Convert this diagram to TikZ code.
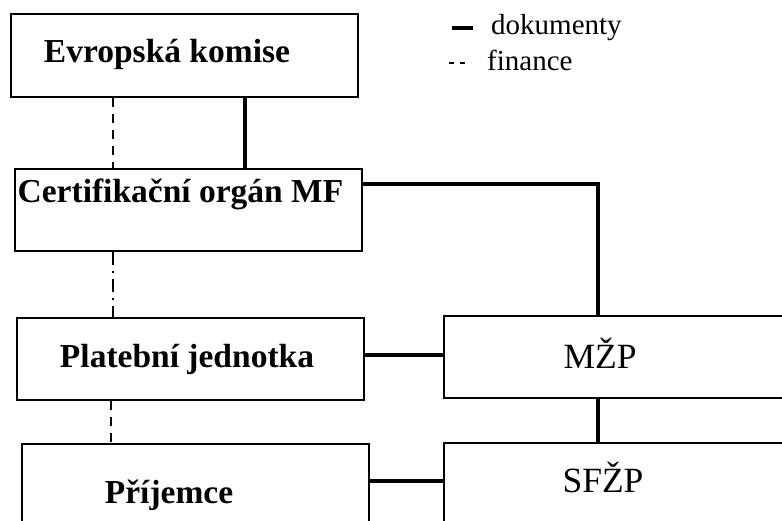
\documentclass[tikz,border=0pt]{standalone}
\usepackage{fontspec}
\setmainfont{Liberation Serif}
\begin{document}
\begin{tikzpicture}[x=1pt,y=-1pt,
  box/.style={draw=black,line width=1.5pt,rectangle,inner sep=0pt},
  btxt/.style={font=\fontsize{33.5}{36}\selectfont\bfseries,inner sep=0pt,anchor=base},
  rtxt/.style={font=\fontsize{35.5}{38}\selectfont,inner sep=0pt,anchor=base},
  ltxt/.style={font=\fontsize{29}{32}\selectfont,inner sep=0pt,anchor=base west},
  doc/.style={line width=3.5pt},
  fin/.style={line width=2pt,dash pattern=on 9pt off 7pt},
  findot/.style={line width=2pt,dash pattern=on 13pt off 6pt on 2pt off 6pt}]
\useasboundingbox (0,0) rectangle (782,521);
\clip (0,0) rectangle (782,521);
% boxes
\node[box,minimum width=347pt,minimum height=83pt] (EK) at (184.5,55.5) {};
\node[box,minimum width=347pt,minimum height=82pt] (CO) at (188.5,210) {};
\node[box,minimum width=347pt,minimum height=82pt] (PJ) at (190.5,359) {};
\node[box,minimum width=347pt,minimum height=90pt] (PR) at (195.5,489) {};
\node[box,minimum width=400pt,minimum height=82pt] (MZP) at (644,357) {};
\node[box,minimum width=400pt,minimum height=90pt] (SF) at (644,488) {};
% texts
\node[btxt] (tEK) at (167,63) {Evropská komise};
\node[btxt] (tCO) at (180.5,203) {Certifikační orgán MF};
\node[btxt] (tPJ) at (187,367) {Platební jednotka};
\node[btxt] (tPR) at (169,503) {Příjemce};
\node[rtxt] (tMZP) at (600,368) {MŽP};
\node[rtxt] (tSF) at (603,492) {SFŽP};
% legend
\coordinate (ld1) at (452,28);
\coordinate (ld2) at (473,28);
\draw[line width=3.5pt] (ld1) -- (ld2);
\node[ltxt] (tdok) at (491,35) {dokumenty};
\coordinate (lf1) at (449,63);
\coordinate (lf2) at (471,63);
\draw[line width=1.3pt,dash pattern=on 5pt off 6pt] (lf1) -- (lf2);
\node[ltxt] (tfin) at (487,71) {finance};
% connectors
\draw[fin] (EK.south -| 113,0) -- (CO.north -| 113,0);
\draw[doc] (EK.south -| 245,0) -- (CO.north -| 245,0);
\draw[findot] (CO.south -| 113,0) -- (PJ.north -| 113,0);
\draw[fin] (PJ.south -| 111,0) -- (PR.north -| 111,0);
\draw[doc] (CO.east |- 0,184) -| (MZP.north -| 598,0);
\draw[doc] (PJ.east |- 0,355) -- (MZP.west |- 0,355);
\draw[doc] (MZP.south -| 598,0) -- (SF.north -| 598,0);
\draw[doc] (PR.east |- 0,481) -- (SF.west |- 0,481);
\end{tikzpicture}
\end{document}
